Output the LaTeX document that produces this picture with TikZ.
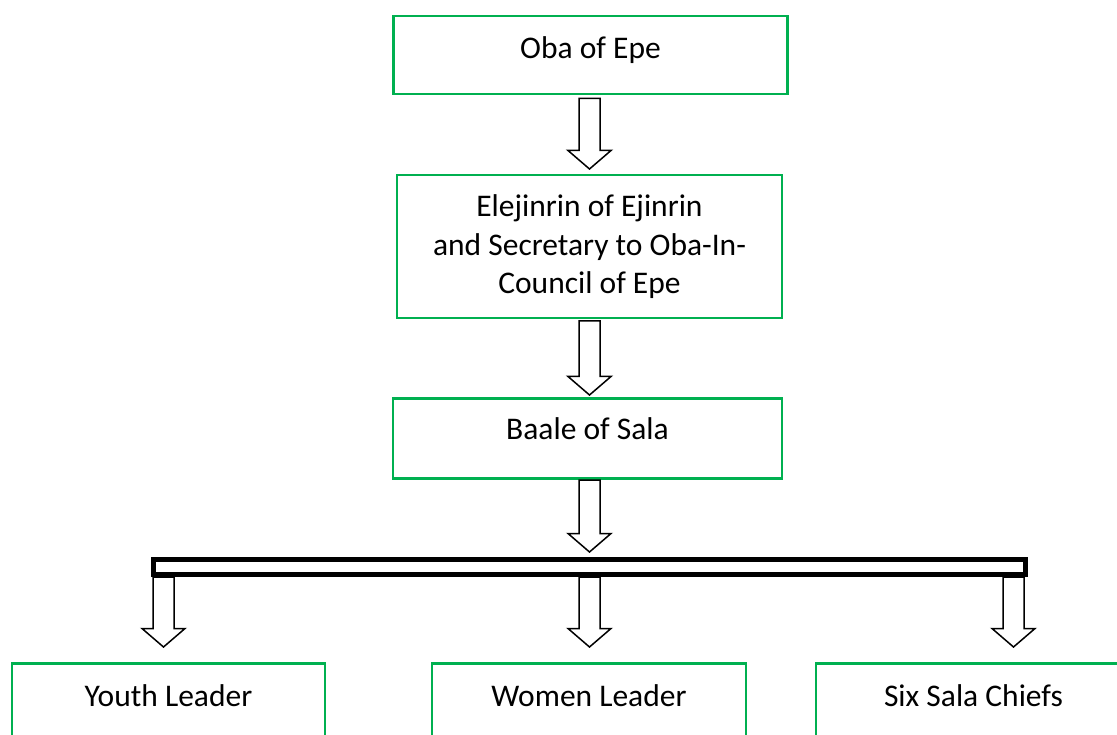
\documentclass[tikz,border=0pt]{standalone}
\usepackage{fontspec}
\setmainfont{Carlito}
\usetikzlibrary{calc}
\definecolor{boxgreen}{RGB}{0,176,80}
\tikzset{
  box/.style={draw=boxgreen, line width=2.5pt, fill=white, rectangle, inner sep=0pt, align=center,
    font=\fontsize{31.5pt}{38.5pt}\selectfont},
  blockarrow/.style={draw=black, line width=1.5pt, fill=white, line join=miter,
    to path={let \p1=(\tikztostart), \p2=(\tikztotarget) in
      (\x1-10.5pt,\y1) -- (\x1+10.5pt,\y1) -- (\x1+10.5pt,\y2+18.5pt) -- (\x1+21.5pt,\y2+18.5pt)
      -- (\x1,\y2) -- (\x1-21.5pt,\y2+18.5pt) -- (\x1-10.5pt,\y2+18.5pt) -- cycle}},
  barbox/.style={draw=black, line width=5pt, fill=white, rectangle, inner sep=0pt}
}
\begin{document}
\begin{tikzpicture}[x=1pt,y=-1pt]
\useasboundingbox (0,0) rectangle (1117,735);
\clip (0,0) rectangle (1117,735);
\fill[white] (0,0) rectangle (1117,735);

% boxes
\node[box, anchor=north, minimum width=394pt, text height=42pt, text depth=36pt] (oba) at (590.5,15) {Oba of Epe};
\node[box, anchor=north, minimum width=385pt, minimum height=143pt] (ele) at (589.5,174)
  {Elejinrin of Ejinrin\\and Secretary to Oba-In-\\Council of Epe};
\node[box, anchor=north, minimum width=389pt, text height=41pt, text depth=39pt] (baale) at (587.5,397) {Baale of Sala};
\node[barbox, minimum width=872pt, minimum height=15pt] (bar) at (589.5,567) {};
\node[box, anchor=north, minimum width=313pt, text height=43pt, text depth=60pt] (youth) at (168.5,662) {Youth Leader};
\node[box, anchor=north, minimum width=314pt, text height=43pt, text depth=60pt] (women) at (589,662) {Women Leader};
\node[box, anchor=north, minimum width=315pt, text height=43pt, text depth=60pt] (six) at (973.5,662) {Six Sala Chiefs};

% arrow end points
\coordinate (a1s) at ($(oba.south)+(-1,3)$);
\coordinate (a1e) at (589.5,169);
\coordinate (a2s) at (589.5,321);
\coordinate (a2e) at (589.5,395);
\coordinate (a3s) at (589.5,480);
\coordinate (a3e) at (589.5,552);
\coordinate (t1) at (163.5,647);
\coordinate (t2) at (589.5,647);
\coordinate (t3) at (1013.5,647);
\coordinate (s1) at (bar.south -| t1);
\coordinate (s2) at (bar.south -| t2);
\coordinate (s3) at (bar.south -| t3);

% arrows
\draw[blockarrow] (a1s) to (a1e);
\draw[blockarrow] (a2s) to (a2e);
\draw[blockarrow] (a3s) to (a3e);
\draw[blockarrow] (s1) to (t1);
\draw[blockarrow] (s2) to (t2);
\draw[blockarrow] (s3) to (t3);
\end{tikzpicture}
\end{document}
